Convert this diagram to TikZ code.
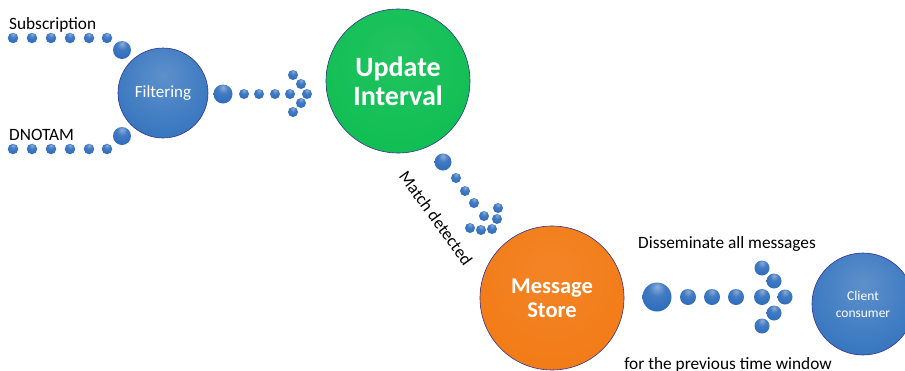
\documentclass[tikz,border=0pt]{standalone}
\usepackage{fontspec}
\setmainfont{Carlito}

\definecolor{dotblue}{RGB}{46,108,188}
\definecolor{discblue}{RGB}{58,120,192}
\definecolor{discgreen}{RGB}{14,190,82}
\definecolor{discorange}{RGB}{242,122,20}

% glossy beads: highlight near the top, deep blue rim
\pgfdeclareradialshading{beadshade}{\pgfpoint{0bp}{18bp}}{%
  color(0bp)=(dotblue!55!white); color(14bp)=(dotblue!90!white);
  color(34bp)=(dotblue); color(56bp)=(dotblue!60!black); color(80bp)=(dotblue!50!black)}
% soft lit discs: lighter near the top, darker toward the rim
\pgfdeclareradialshading{blueshade}{\pgfpoint{0bp}{10bp}}{%
  color(0bp)=(discblue!82!white); color(28bp)=(discblue);
  color(50bp)=(discblue!82!black); color(70bp)=(discblue!75!black)}
\pgfdeclareradialshading{greenshade}{\pgfpoint{0bp}{10bp}}{%
  color(0bp)=(discgreen!92!white); color(35bp)=(discgreen);
  color(50bp)=(discgreen!90!black); color(70bp)=(discgreen!85!black)}
\pgfdeclareradialshading{orangeshade}{\pgfpoint{0bp}{10bp}}{%
  color(0bp)=(discorange!92!white); color(35bp)=(discorange);
  color(50bp)=(discorange!90!black); color(70bp)=(discorange!85!black)}

\tikzset{
  ball/.style={circle, inner sep=0pt, shading=beadshade},
  disc/.style={circle, inner sep=0pt, align=center, text=white,
               draw=black!40!blue!60!gray, line width=0.6pt},
  label/.style={inner sep=0pt, font=\fontsize{17.3}{20}\selectfont}
}

\begin{document}
\begin{tikzpicture}[x=1pt, y=-1pt]
\useasboundingbox (0,0) rectangle (905,370);

% input streams
\foreach \x [count=\i] in {13,32,51,70,89,107}
  \node[ball, minimum size=10.5pt] (sub\i) at (\x,38) {};
\node[ball, minimum size=18pt] (subbig) at (122,50) {};
\foreach \x [count=\i] in {13,32,51,70,89,107}
  \node[ball, minimum size=10.5pt] (dno\i) at (\x,149) {};
\node[ball, minimum size=18pt] (dnobig) at (122,136) {};

\node[label, anchor=base west] (subtxt) at (9,29) {Subscription};
\node[label, anchor=base west] (dnotxt) at (9,140) {DNOTAM};

% filtering stage
\node[disc, shading=blueshade, minimum size=90pt,
      font=\fontsize{17}{20}\selectfont] (filter) at (163,93) {Filtering};

% arrow to the update interval
\node[ball, minimum size=19pt] (fa0) at (223,94) {};
\foreach \x [count=\i] in {244,259,275,290}
  \node[ball, minimum size=10pt] (fa\i) at (\x,94) {};
\node[ball, minimum size=10pt] (fh1) at (293,75) {};
\node[ball, minimum size=10pt] (fh2) at (301,84) {};
\node[ball, minimum size=10pt] (fh3) at (307,94) {};
\node[ball, minimum size=10pt] (fh4) at (301,103) {};
\node[ball, minimum size=10pt] (fh5) at (293,112) {};

% update interval
\node[disc, shading=greenshade, minimum size=144pt,
      font=\bfseries\fontsize{28}{29}\selectfont] (update) at (398,81) {Update\\Interval};

% match detected arrow
\node[ball, minimum size=17pt] (ma0) at (443,162) {};
\node[ball, minimum size=10pt] (ma1) at (456,178) {};
\node[ball, minimum size=10pt] (ma2) at (465,191) {};
\node[ball, minimum size=10pt] (ma3) at (474,203) {};
\node[ball, minimum size=10pt] (ma4) at (484,216) {};
\node[ball, minimum size=10pt] (mh1) at (498,208) {};
\node[ball, minimum size=10pt] (mh2) at (497,219) {};
\node[ball, minimum size=10pt] (mh3) at (492,229) {};
\node[ball, minimum size=10pt] (mh4) at (481,230) {};
\node[ball, minimum size=10pt] (mh5) at (470,228) {};
\node[label, rotate=-54] (matchtxt) at (436,218) {Match detected};

% message store
\node[disc, shading=orangeshade, minimum size=144pt,
      font=\bfseries\fontsize{22.5}{24}\selectfont] (store) at (552,298) {Message\\Store};

% dissemination arrow
\node[ball, minimum size=29pt] (da0) at (657,297) {};
\foreach \x [count=\i] in {688,712,736,762}
  \node[ball, minimum size=16pt] (da\i) at (\x,297) {};
\node[ball, minimum size=15pt] (dh1) at (762,268) {};
\node[ball, minimum size=15pt] (dh2) at (774,281) {};
\node[ball, minimum size=15pt] (dh3) at (785,297) {};
\node[ball, minimum size=15pt] (dh4) at (774,313) {};
\node[ball, minimum size=15pt] (dh5) at (762,326) {};

\node[label, anchor=base] (distxt) at (727,248) {Disseminate all messages};
\node[label, anchor=base] (wintxt) at (728,369) {for the previous time window};

% client
\node[disc, shading=blueshade, minimum size=102pt,
      font=\fontsize{13.5}{17}\selectfont] (client) at (863,304) {Client\\consumer};
\end{tikzpicture}
\end{document}
